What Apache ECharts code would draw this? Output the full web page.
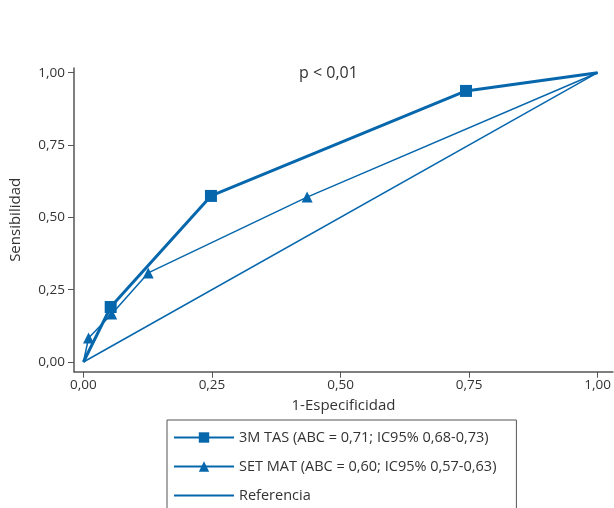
<!DOCTYPE html>
<html>
<head>
<meta charset="utf-8">
<script src="https://cdn.jsdelivr.net/npm/echarts@6/dist/echarts.min.js"></script>
<style>
  html, body { margin: 0; padding: 0; background: #fff; }
  #chart { width: 614px; height: 508px; }
</style>
</head>
<body>
<div id="chart"></div>
<script>
// ROC curves
var tickValues = [0, 0.25, 0.5, 0.75, 1]
var tasPoints = [[0, 0], [0.053, 0.19], [0.248, 0.574], [0.744, 0.937], [1, 1]]
var setPoints = [[0, 0], [0.01, 0.083], [0.055, 0.166], [0.126, 0.308], [0.435, 0.57], [1, 1]]
var refPoints = [[0, 0], [1, 1]]
var seriesNames = ['3M TAS (ABC = 0,71; IC95% 0,68-0,73)', 'SET MAT (ABC = 0,60; IC95% 0,57-0,63)', 'Referencia']

var blue = '#0767ad'
var font = 'Open Sans'

function fmt(v) {
  return v.toFixed(2).replace('.', ',')
}

// no marker on the (0,0) and (1,1) ends
function hideEnds(points) {
  return points.map(function (p, i) {
    if (i === 0 || i === points.length - 1) {
      return { value: p, symbol: 'none' }
    }
    return p
  })
}

var chart = echarts.init(document.getElementById('chart'))
chart.setOption({
  animation: false,
  textStyle: { fontFamily: font },
  grid: { left: 70, top: 68, width: 543, height: 303.7 },
  graphic: [{
    type: 'text',
    left: 299,
    top: 65,
    style: { text: 'p < 0,01', font: '16px "Open Sans"', fill: '#333' }
  }],
  legend: {
    orient: 'vertical',
    left: 167,
    top: 420,
    height: 140,
    itemWidth: 60,
    itemHeight: 13,
    itemGap: 14,
    padding: [10, 20, 30, 6],
    borderColor: '#555',
    borderWidth: 1,
    borderRadius: 0,
    data: [
      { name: seriesNames[0] },
      { name: seriesNames[1] },
      { name: seriesNames[2], itemStyle: { opacity: 0 } }
    ],
    textStyle: { fontFamily: font, fontSize: 14.5, color: '#333' }
  },
  xAxis: {
    type: 'value',
    min: -0.01834,
    max: 1.0299,
    name: '1-Especificidad',
    nameLocation: 'middle',
    nameGap: 27,
    nameTextStyle: { fontSize: 15, color: '#333' },
    splitLine: { show: false },
    axisLine: { onZero: false, lineStyle: { color: '#555', width: 1.5 } },
    axisTick: { show: true, length: 6, customValues: tickValues, lineStyle: { color: '#555' } },
    axisLabel: { customValues: tickValues, formatter: fmt, fontSize: 13.5, color: '#333', margin: 6 }
  },
  yAxis: {
    type: 'value',
    min: -0.0336,
    max: 1.01625,
    name: 'Sensibilidad',
    nameLocation: 'middle',
    nameGap: 51,
    nameTextStyle: { fontSize: 15, color: '#333' },
    splitLine: { show: false },
    axisLine: { show: true, onZero: false, lineStyle: { color: '#555', width: 1.5 } },
    axisTick: { show: true, length: 6, customValues: tickValues, lineStyle: { color: '#555' } },
    axisLabel: { customValues: tickValues, formatter: fmt, fontSize: 13.5, color: '#333', margin: 9 }
  },
  series: [
    {
      name: seriesNames[0],
      type: 'line',
      data: hideEnds(tasPoints),
      symbol: 'rect',
      symbolSize: 12,
      showAllSymbol: true,
      lineStyle: { color: blue, width: 3 },
      itemStyle: { color: blue },
      z: 3
    },
    {
      name: seriesNames[1],
      type: 'line',
      data: hideEnds(setPoints),
      symbol: 'triangle',
      symbolSize: 11,
      showAllSymbol: true,
      lineStyle: { color: blue, width: 1.5 },
      itemStyle: { color: blue },
      z: 2
    },
    {
      name: seriesNames[2],
      type: 'line',
      data: refPoints,
      symbol: 'none',
      lineStyle: { color: blue, width: 1.5 },
      itemStyle: { color: blue },
      z: 1
    }
  ]
})
</script>
</body>
</html>
